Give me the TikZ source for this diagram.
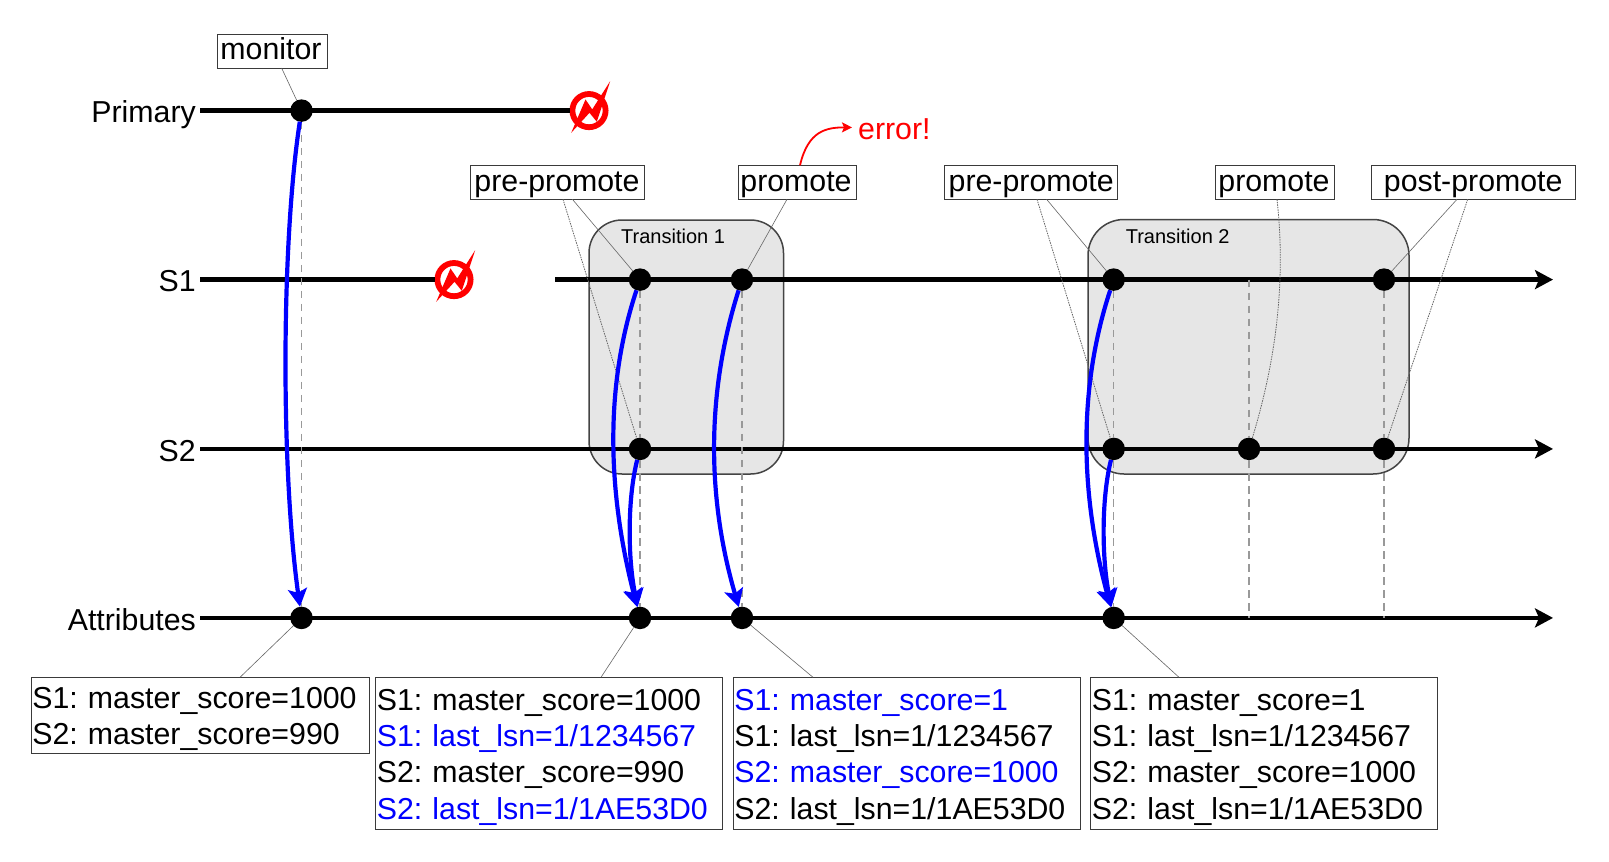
\documentclass[tikz,border=0pt]{standalone}
\usepackage{fontspec}
\setmainfont{Liberation Sans}
\usetikzlibrary{arrows.meta,calc}
\frenchspacing
\newcommand{\bigfont}{\fontsize{30.3}{36.3}\selectfont}
\newcommand{\smallfont}{\fontsize{20}{24}\selectfont}
\newcommand{\topA}{\rule{0pt}{32.8pt}}
\newcommand{\topB}{\rule{0pt}{31pt}}
\newcommand{\botA}{\rule[-10.2pt]{0pt}{10.2pt}}
\newcommand{\botB}{\rule[-8.6pt]{0pt}{8.6pt}}
\definecolor{trfill}{HTML}{E6E6E6}
\definecolor{trline}{HTML}{444444}
\definecolor{guidegray}{HTML}{999999}
\definecolor{leadgray}{HTML}{666666}
\definecolor{boxline}{HTML}{3A3A3A}
\tikzset{
  tl/.style={line width=4.8pt,black},
  tlarrow/.style={tl,-{Stealth[length=18pt,width=19pt,inset=4pt]}},
  dotnode/.style={circle,fill=black,draw=none,inner sep=0pt,minimum size=22.5pt,outer sep=0pt},
  ringnode/.style={circle,draw=red,line width=5.8pt,inner sep=0pt,minimum size=33.2pt,fill=none},
  transbox/.style={draw=trline,fill=trfill,line width=1.5pt},
  translabel/.style={font=\smallfont,inner sep=0pt,anchor=base west},
  axislabel/.style={font=\bigfont,inner sep=0pt,anchor=base east},
  labelbox/.style={draw=boxline,fill=white,line width=1pt,font=\bigfont,inner sep=0pt,outer sep=0pt,
     minimum height=34pt,text height=22pt,text depth=4.2pt},
  databox/.style={draw=boxline,fill=white,line width=1pt,font=\bigfont,inner xsep=1.4pt,inner ysep=0pt,outer sep=0pt,
     align=left,anchor=north west},
  flow/.style={line width=4.2pt,blue,-{Stealth[length=18pt,width=19pt,inset=4pt]}},
  guide/.style={line width=1.4pt,guidegray,dash pattern=on 7.5pt off 5.5pt},
  leadline/.style={line width=0.6pt,leadgray},
  leaddots/.style={line width=0.8pt,leadgray,dash pattern=on 1.5pt off 1pt},
  boltshape/.pic={
    \fill[red] (21.2,-29.5) -- (7.8,11.2) -- (0.5,2.2) -- (-17.8,22.2) -- (-3.5,-11.2) -- (3.2,-1.2) -- cycle;
  }
}
\begin{document}
\begin{tikzpicture}[x=1pt,y=-1pt]
\useasboundingbox (0,0) rectangle (1609,862);
\fill[white] (0,0) rectangle (1609,862);

% transition boxes
\draw[transbox,rounded corners=33pt] (589,220) rectangle (783.5,474);
\draw[transbox,rounded corners=36pt] (1088,219.5) rectangle (1409,474);
\node[translabel] (t1) at (621,243) {Transition 1};
\node[translabel] (t2) at (1125.6,243) {Transition 2};

% axis labels
\node[axislabel] (lP) at (196,122.5) {Primary};
\node[axislabel] (lS1) at (196,291.5) {S1};
\node[axislabel] (lS2) at (196,461) {S2};
\node[axislabel] (lA) at (196,630) {Attributes};

% free ends of the time lines
\coordinate (pS) at (200,110.6);
\coordinate (s1S) at (200,279.6);
\coordinate (s1T) at (555,279.6);
\coordinate (s1E) at (1553,279.6);
\coordinate (s2S) at (200,448.9);
\coordinate (s2E) at (1553,448.9);
\coordinate (aS) at (200,617.9);
\coordinate (aE) at (1553,617.9);
\coordinate (gc1) at (1249,279.6);
\coordinate (gc2) at (1249,617.9);
\coordinate (gd2) at (1384,617.9);

% failure marks
\node[ringnode] (b1) at (589,110.6) {};
\node[ringnode] (b2) at (454,279.6) {};
\path (b1) pic {boltshape};
\path (b2) pic {boltshape};

% time lines
\draw[tl] (pS) -- (b1);
\draw[tl] (s1S) -- (b2);
\draw[tlarrow] (s1T) -- (s1E);
\draw[tlarrow] (s2S) -- (s2E);
\draw[tlarrow] (aS) -- (aE);

% event dots
\node[dotnode] (dP) at (301.5,110.6) {};
\node[dotnode] (d1a) at (640,279.6) {};
\node[dotnode] (d1b) at (742,279.6) {};
\node[dotnode] (d1c) at (1113.7,279.6) {};
\node[dotnode] (d1d) at (1384,279.6) {};
\node[dotnode] (d2a) at (640,448.9) {};
\node[dotnode] (d2c) at (1113.7,448.9) {};
\node[dotnode] (d2d) at (1249,448.9) {};
\node[dotnode] (d2e) at (1384,448.9) {};
\node[dotnode] (dA1) at (301.5,617.9) {};
\node[dotnode] (dA2) at (640,617.9) {};
\node[dotnode] (dA3) at (742,617.9) {};
\node[dotnode] (dA4) at (1113.7,617.9) {};

% guides
\draw[guide] (dP) -- (dA1);
\draw[guide] (d1a) -- (d2a);
\draw[guide] (d2a) -- (dA2);
\draw[guide] (d1b) -- (dA3);
\draw[guide] (d1c) -- (d2c);
\draw[guide] (d2c) -- (dA4);
\draw[guide] (gc1) -- (d2d);
\draw[guide] (d2d) -- (gc2);
\draw[guide] (d1d) -- (d2e);
\draw[guide] (d2e) -- (gd2);

% label boxes
\node[labelbox,minimum width=110pt] (mon) at (272,51) {monitor\kern2pt};
\node[labelbox,minimum width=174pt] (pre1) at (557,182.3) {pre-promote};
\node[labelbox,minimum width=118pt] (pro1) at (797,182.3) {promote\kern2pt};
\node[labelbox,minimum width=173.5pt] (pre2) at (1031.2,182.3) {pre-promote};
\node[labelbox,minimum width=119pt] (pro2) at (1274.5,182.3) {promote\kern1pt};
\node[labelbox,minimum width=203.5pt] (post) at (1473.7,182.3) {post-promote\kern1pt};

% error note
\node[font=\bigfont,text=red,inner sep=0pt,anchor=base west] (err) at (858,139.3) {error!};
\coordinate (errtip) at (852,127.4);
\draw[line width=1.8pt,red,-{Stealth[length=10pt,width=10pt,inset=2pt]}] ([xshift=3pt]pro1.north) .. controls (808,131) and (826,127.4) .. (errtip);

% data boxes
\node[databox,text width=335.2pt,minimum width=338pt,minimum height=75.5pt] (b1data) at (31,677.3)
  {\fontsize{30.3}{35.8}\selectfont\topB S1: master\_score=1000\\S2: master\_score=990\botB};
\node[databox,text width=344.2pt,minimum width=347pt,minimum height=152pt] (b2data) at (375.5,677.3)
  {\topA S1: master\_score=1000\\\textcolor{blue}{S1: last\_lsn=1/1234567}\\S2: master\_score=990\\\textcolor{blue}{S2: last\_lsn=1/1AE53D0}\botA};
\node[databox,text width=344.9pt,minimum width=347.7pt,minimum height=152pt] (b3data) at (733,677.3)
  {\topA\textcolor{blue}{S1: master\_score=1}\\S1: last\_lsn=1/1234567\\\textcolor{blue}{S2: master\_score=1000}\\S2: last\_lsn=1/1AE53D0\botA};
\node[databox,text width=343.7pt,minimum width=346.5pt,minimum height=152pt] (b4data) at (1090.5,677.3)
  {\topA S1: master\_score=1\\S1: last\_lsn=1/1234567\\S2: master\_score=1000\\S2: last\_lsn=1/1AE53D0\botA};

% leader lines
\draw[leadline] ([xshift=9.6pt]mon.south) -- (dP);
\draw[leadline] ([xshift=15.4pt]pre1.south) -- (d1a);
\draw[leaddots] ([xshift=6pt]pre1.south) -- (d2a);
\draw[leadline] ([xshift=-10pt]pro1.south) -- (d1b);
\draw[leadline] ([xshift=15.4pt]pre2.south) -- (d1c);
\draw[leaddots] ([xshift=5.8pt]pre2.south) -- (d2c);
\draw[leaddots] ([xshift=2.5pt]pro2.south) .. controls (1287,290) and (1273,370) .. (d2d);
\draw[leadline] ([xshift=-16.7pt]post.south) -- (d1d);
\draw[leaddots] ([xshift=-6pt]post.south) -- (d2e);
\draw[leadline] (dA1) -- ([xshift=209pt]b1data.north west);
\draw[leadline] (dA2) -- ([xshift=225.5pt]b2data.north west);
\draw[leadline] (dA3) -- ([xshift=80pt]b3data.north west);
\draw[leadline] (dA4) -- ([xshift=88.5pt]b4data.north west);

% blue flows
\draw[flow] (dP) .. controls (281,245) and (281,470) .. (dA1);
\draw[flow] (d1a) .. controls (605,385) and (607,490) .. (dA2);
\draw[flow] (d2a) .. controls (627,500) and (628,560) .. (dA2);
\draw[flow] (d1b) .. controls (707,390) and (706,495) .. (dA3);
\draw[flow] (d1c) .. controls (1079,385) and (1079,490) .. (dA4);
\draw[flow] (d2c) .. controls (1101,500) and (1102,560) .. (dA4);
\end{tikzpicture}
\end{document}
